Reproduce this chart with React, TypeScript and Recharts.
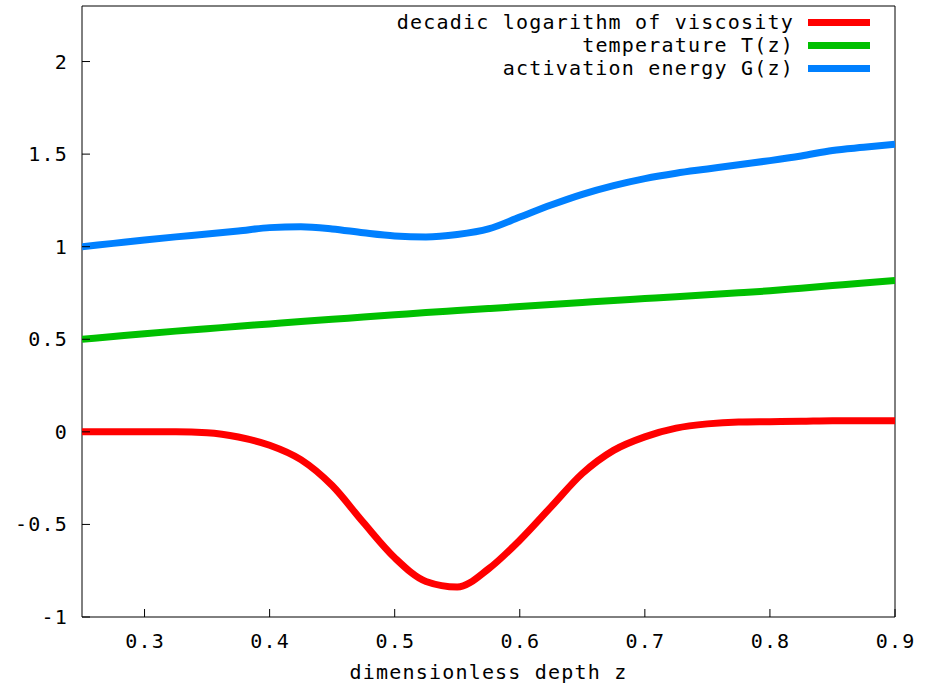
import React from 'react';
import { LineChart, Line, XAxis, YAxis, ReferenceArea, Label } from 'recharts';

const depth = [0.25, 0.275, 0.3, 0.325, 0.35, 0.375, 0.4, 0.425, 0.45, 0.475, 0.5, 0.525, 0.55, 0.575, 0.6, 0.625, 0.65, 0.675, 0.7, 0.725, 0.75, 0.775, 0.8, 0.825, 0.85, 0.875, 0.9];
const viscosityLog = [0, 0, 0, 0, -0.005, -0.028, -0.072, -0.15, -0.29, -0.49, -0.68, -0.808, -0.838, -0.74, -0.585, -0.405, -0.225, -0.1, -0.027, 0.02, 0.043, 0.053, 0.055, 0.057, 0.06, 0.06, 0.06];
const temperature = [0.5, 0.515, 0.53, 0.544, 0.557, 0.57, 0.583, 0.596, 0.608, 0.62, 0.632, 0.644, 0.655, 0.666, 0.677, 0.688, 0.699, 0.71, 0.72, 0.73, 0.741, 0.751, 0.762, 0.776, 0.79, 0.804, 0.817];
const activationEnergy = [1.0, 1.018, 1.036, 1.053, 1.068, 1.085, 1.103, 1.108, 1.096, 1.075, 1.058, 1.053, 1.066, 1.096, 1.16, 1.225, 1.283, 1.33, 1.368, 1.397, 1.42, 1.443, 1.465, 1.49, 1.52, 1.537, 1.553];

const xTicks = [0.3, 0.4, 0.5, 0.6, 0.7, 0.8, 0.9];
const yTicks = [-1, -0.5, 0, 0.5, 1, 1.5, 2];

const seriesNames = ['decadic logarithm of viscosity', 'temperature T(z)', 'activation energy G(z)'];
const seriesKeys = ['visc', 'temp', 'act'];
const seriesColors = ['#ff0000', '#00c000', '#0080ff'];

const data = depth.map((z, i) => ({
  z,
  visc: viscosityLog[i],
  temp: temperature[i],
  act: activationEnergy[i],
}));

const FONT = '"DejaVu Sans Mono", monospace';
const FS = 20;
const LS = 1.2;
const TICK = 8;

const textProps = { fontFamily: FONT, fontSize: FS, letterSpacing: LS, fill: '#000' };

const BottomTick = (props: any) => {
  const { x, y, payload } = props;
  return (
    <g>
      <line x1={x} y1={y} x2={x} y2={y - TICK} stroke="#000" strokeWidth={1} />
      <text x={x + LS / 2} y={y + 24} textAnchor="middle" dominantBaseline="central" {...textProps}>
        {String(payload.value)}
      </text>
    </g>
  );
};

const TopTick = (props: any) => {
  const { x, y } = props;
  return <line x1={x} y1={y} x2={x} y2={y + TICK} stroke="#000" strokeWidth={1} />;
};

const LeftTick = (props: any) => {
  const { x, y, payload } = props;
  return (
    <g>
      <line x1={x} y1={y} x2={x + TICK} y2={y} stroke="#000" strokeWidth={1} />
      <text x={x - 14} y={y} textAnchor="end" dominantBaseline="central" {...textProps}>
        {String(payload.value)}
      </text>
    </g>
  );
};

const RightTick = (props: any) => {
  const { x, y } = props;
  return <line x1={x} y1={y} x2={x - TICK} y2={y} stroke="#000" strokeWidth={1} />;
};

export default function App() {
  return (
    <div style={{ position: 'absolute', left: 0, top: 0, width: 934, height: 685, background: '#fff' }}>
      <LineChart
        width={934}
        height={685}
        data={data}
        margin={{ top: 6, right: 39, bottom: 0, left: 0 }}
      >
        <XAxis
          dataKey="z"
          type="number"
          domain={[0.25, 0.9]}
          ticks={xTicks}
          allowDataOverflow
          axisLine={false}
          tickLine={false}
          tickSize={0}
          tickMargin={0}
          height={68}
          tick={<BottomTick />}
          interval={0}
        >
          <Label
            content={(p: any) => {
              const vb = p.viewBox;
              return (
                <text x={vb.x + vb.width / 2} y={vb.y + 55} textAnchor="middle" dominantBaseline="central" {...textProps}>
                  dimensionless depth z
                </text>
              );
            }}
          />
        </XAxis>
        <XAxis
          xAxisId="top"
          orientation="top"
          dataKey="z"
          type="number"
          domain={[0.25, 0.9]}
          ticks={xTicks}
          allowDataOverflow
          axisLine={false}
          tickLine={false}
          tickSize={0}
          tickMargin={0}
          height={0}
          tick={<TopTick />}
          interval={0}
        />
        <YAxis
          type="number"
          domain={[-1, 2.3]}
          ticks={yTicks}
          allowDataOverflow
          axisLine={false}
          tickLine={false}
          tickSize={0}
          tickMargin={0}
          width={82}
          tick={<LeftTick />}
          interval={0}
        />
        <YAxis
          yAxisId="right"
          orientation="right"
          type="number"
          domain={[-1, 2.3]}
          ticks={yTicks}
          allowDataOverflow
          axisLine={false}
          tickLine={false}
          tickSize={0}
          tickMargin={0}
          width={0}
          tick={<RightTick />}
          interval={0}
        />
        <ReferenceArea x1={0.25} x2={0.9} y1={-1} y2={2.3} fill="none" stroke="#000" strokeWidth={1} ifOverflow="visible" />
        {seriesKeys.map((k, i) => (
          <Line
            key={k}
            dataKey={k}
            name={seriesNames[i]}
            type="monotone"
            stroke={seriesColors[i]}
            strokeWidth={7}
            dot={false}
            isAnimationActive={false}
          />
        ))}
      </LineChart>
      <div style={{ position: 'absolute', top: 11, right: 64, display: 'flex', flexDirection: 'column' }}>
        {seriesNames.map((n, i) => (
          <div key={n} style={{ display: 'flex', alignItems: 'center', justifyContent: 'flex-end', height: 23 }}>
            <span style={{ fontFamily: FONT, fontSize: FS, letterSpacing: LS, color: '#000', marginRight: 14, whiteSpace: 'pre', lineHeight: '23px' }}>{n}</span>
            <div style={{ width: 62, height: 7, background: seriesColors[i] }} />
          </div>
        ))}
      </div>
    </div>
  );
}
